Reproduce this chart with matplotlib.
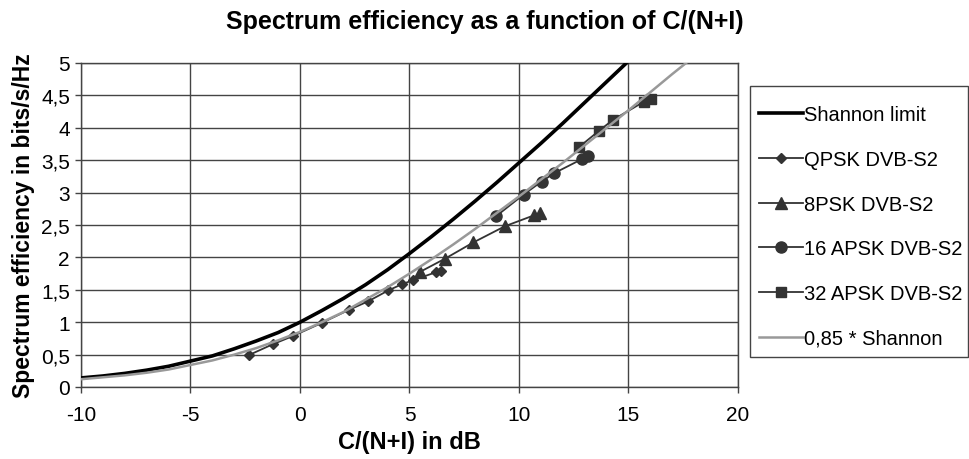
import matplotlib
matplotlib.use("Agg")
import matplotlib.pyplot as plt
from matplotlib.ticker import FuncFormatter
from matplotlib.patches import Rectangle

plt.rcParams['font.family'] = ['Liberation Sans', 'DejaVu Sans']
plt.rcParams['axes.unicode_minus'] = False

# Shannon limit
shannon_x = [-10, -9, -8, -7, -6, -5, -4, -3, -2, -1, 0, 1, 2, 3, 4, 5, 6, 7, 8, 9, 10, 11, 12, 13, 14, 15]
shannon_y = [0.14, 0.17, 0.21, 0.26, 0.32, 0.40, 0.48, 0.59, 0.71, 0.84, 1.00, 1.18, 1.37, 1.58, 1.81, 2.06,
             2.32, 2.59, 2.87, 3.16, 3.46, 3.76, 4.07, 4.39, 4.71, 5.03]

# 0.85 * Shannon
s85_x = [-10, -9, -8, -7, -6, -5, -4, -3, -2, -1, 0, 1, 2, 3, 4, 5, 6, 7, 8, 9, 10, 11, 12, 13, 14, 15, 16, 17, 18]
s85_y = [0.12, 0.15, 0.18, 0.22, 0.27, 0.34, 0.41, 0.50, 0.60, 0.72, 0.85, 1.00, 1.16, 1.35, 1.54, 1.75,
         1.97, 2.20, 2.44, 2.69, 2.94, 3.20, 3.46, 3.73, 4.00, 4.27, 4.55, 4.83, 5.10]

qpsk_x = [-2.35, -1.24, -0.30, 1.00, 2.23, 3.10, 4.03, 4.68, 5.18, 6.20, 6.42]
qpsk_y = [0.49, 0.66, 0.79, 0.99, 1.19, 1.32, 1.49, 1.59, 1.65, 1.77, 1.79]

psk8_x = [5.50, 6.62, 7.91, 9.35, 10.69, 10.98]
psk8_y = [1.78, 1.98, 2.23, 2.48, 2.65, 2.68]

apsk16_x = [8.97, 10.21, 11.03, 11.61, 12.89, 13.13]
apsk16_y = [2.64, 2.97, 3.17, 3.30, 3.52, 3.57]

apsk32_x = [12.73, 13.64, 14.28, 15.69, 16.05]
apsk32_y = [3.70, 3.95, 4.12, 4.40, 4.45]

W, H = 969, 460
fig = plt.figure(figsize=(W/100, H/100), dpi=100)
ax = fig.add_axes([81/W, 1-388/H, (738-81)/W, (388-64)/H])

mk = '#333333'
ax.plot(shannon_x, shannon_y, color='black', lw=2.6, label='Shannon limit', zorder=3)
ax.plot(qpsk_x, qpsk_y, color=mk, lw=1.3, marker='D', ms=5.5, label='QPSK DVB-S2', zorder=4)
ax.plot(psk8_x, psk8_y, color=mk, lw=1.3, marker='^', ms=8, label='8PSK DVB-S2', zorder=4)
ax.plot(apsk16_x, apsk16_y, color=mk, lw=1.3, marker='o', ms=8, label='16 APSK DVB-S2', zorder=4)
ax.plot(apsk32_x, apsk32_y, color=mk, lw=1.3, marker='s', ms=7.5, label='32 APSK DVB-S2', zorder=4)
ax.plot(s85_x, s85_y, color='#999999', lw=1.8, label='0,85 * Shannon', zorder=5)

ax.set_xlim(-10, 20)
ax.set_ylim(0, 5)
ax.set_xticks([-10, -5, 0, 5, 10, 15, 20])
ax.set_yticks([0, 0.5, 1, 1.5, 2, 2.5, 3, 3.5, 4, 4.5, 5])
fmt = FuncFormatter(lambda v, p: ('%g' % v).replace('.', ','))
ax.xaxis.set_major_formatter(fmt)
ax.yaxis.set_major_formatter(fmt)
ax.grid(True, color='#444444', lw=1.0)
ax.set_axisbelow(True)
for s in ax.spines.values():
    s.set_color('#444444')
    s.set_linewidth(1.0)
ax.tick_params(axis='both', labelsize=15, length=4, color='#444444', width=1.0)
ax.tick_params(axis='x', pad=9)
ax.tick_params(axis='y', pad=4)

ax.set_xlabel('C/(N+I) in dB', fontsize=17, fontweight='bold', labelpad=4)
ax.set_ylabel('Spectrum efficiency in bits/s/Hz', fontsize=16.5, fontweight='bold', labelpad=4)
fig.text(0.5, 1-22/H, 'Spectrum efficiency as a function of C/(N+I)', ha='center', va='center',
         fontsize=18, fontweight='bold')

# legend frame drawn separately so its padding can match the reference
fig.patches.append(Rectangle((750/W, 1-358/H), (968-750)/W, (358-87)/H, transform=fig.transFigure,
                             fill=False, edgecolor='#444444', lw=1.0))
leg = fig.legend(loc='upper left', bbox_to_anchor=(753/W, 1-100/H), fontsize=14.5,
                 frameon=False, handlelength=2.2, labelspacing=1.28, borderpad=0.3,
                 handletextpad=0.05, borderaxespad=0)

fig.savefig('out.png', dpi=100)
